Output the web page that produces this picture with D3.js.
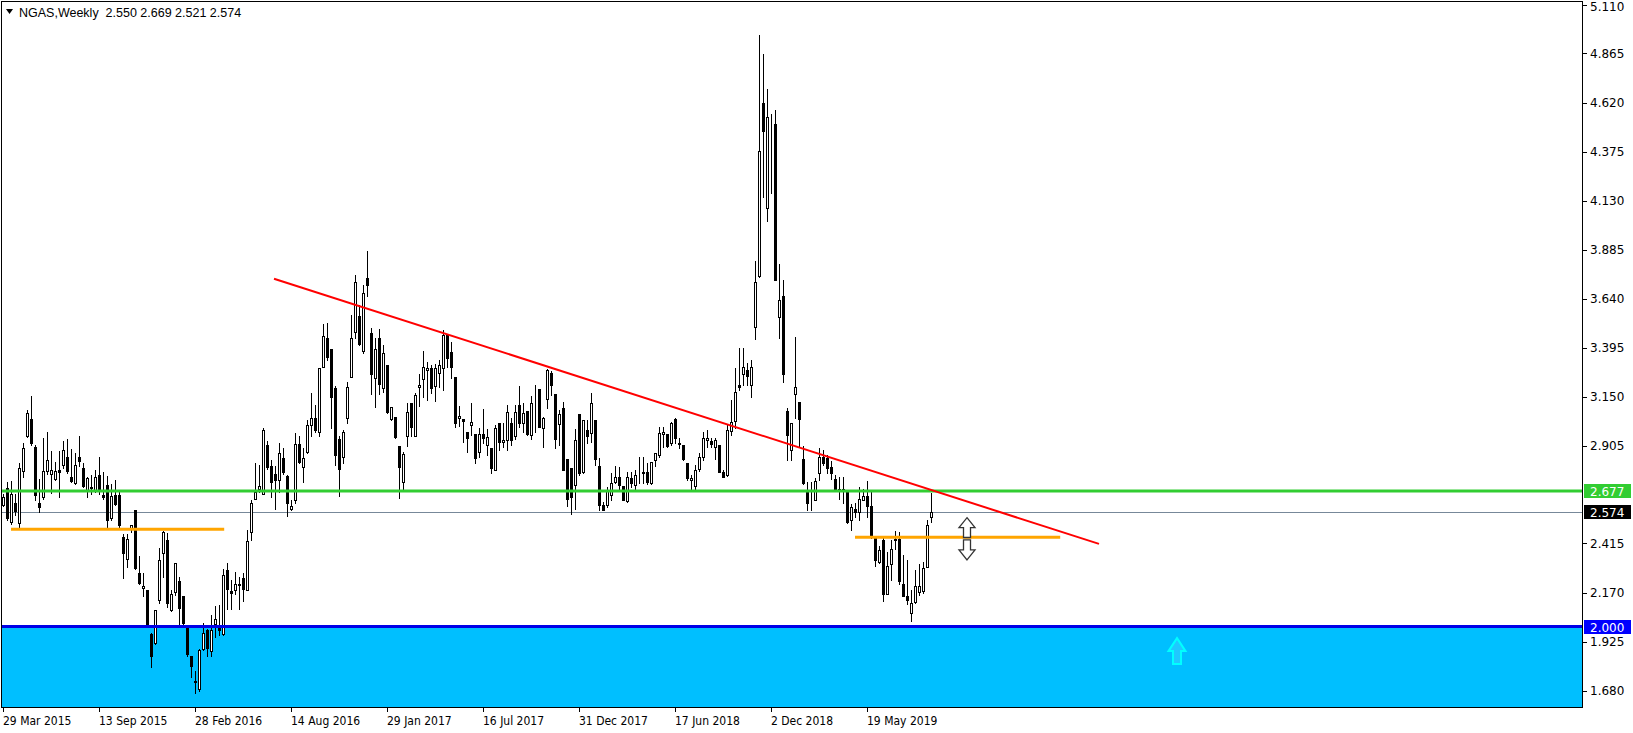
<!DOCTYPE html>
<html><head><meta charset="utf-8">
<script src="https://cdn.jsdelivr.net/npm/d3@7"></script>
<style>
html,body{margin:0;padding:0;background:#fff;overflow:hidden}
svg{display:block}
</style></head><body>
<svg id="c" width="1633" height="733"></svg>
<script>
// ---------- DATA (NGAS weekly, first bar = week of 29 Mar 2015) ----------
const opens = [2.607,2.695,2.523,2.620,2.520,2.777,2.952,3.036,2.896,2.615,2.649,2.780,2.765,2.737,2.782,2.810,2.846,2.747,2.719,2.847,
2.795,2.682,2.695,2.682,2.760,2.660,2.710,2.543,2.657,2.660,2.450,2.340,2.487,2.582,2.270,2.193,2.181,1.961,1.917,2.131,
2.368,2.435,2.081,2.174,2.226,2.151,1.994,1.855,1.730,1.687,1.889,1.981,1.877,2.011,1.994,1.964,2.284,2.178,2.184,2.206,
2.244,2.184,2.473,2.640,2.689,2.665,2.906,2.802,2.762,2.732,2.841,2.755,2.588,2.635,2.911,2.796,2.874,3.008,3.041,2.975,
3.297,3.442,3.389,3.192,2.936,2.849,3.041,3.250,3.471,3.554,3.380,3.743,3.467,3.242,3.442,3.192,3.309,3.036,3.046,2.903,
2.724,2.955,3.117,2.955,3.200,3.237,3.282,3.295,3.205,3.267,3.292,3.459,3.372,3.247,3.041,3.038,2.975,3.008,2.963,2.874,
2.963,2.908,2.891,2.783,3.020,2.921,2.933,3.016,2.950,3.108,3.016,3.080,2.958,3.103,3.187,2.991,3.137,3.267,3.163,3.013,
3.092,2.836,2.791,2.707,3.063,2.774,2.983,2.969,3.033,2.802,2.610,2.607,2.657,2.724,2.749,2.702,2.629,2.741,2.707,2.769,
2.766,2.774,2.719,2.832,2.857,2.963,2.963,2.916,3.036,2.916,2.908,2.819,2.732,2.702,2.786,2.849,2.933,2.927,2.896,2.908,
2.774,2.757,2.980,3.029,3.208,3.263,3.283,3.208,3.500,3.751,4.619,4.093,4.443,4.511,3.550,3.654,3.078,2.882,3.163,3.123,
2.836,2.685,2.650,2.635,2.769,2.849,2.841,2.799,2.736,2.690,2.688,2.674,2.535,2.590,2.573,2.635,2.652,2.602,2.448,2.323,
2.431,2.164,2.311,2.440,2.440,2.211,2.151,2.067,2.122,2.173,2.178,2.298,2.550];
const highs = [2.665,2.724,2.729,2.665,2.819,2.916,3.083,3.153,2.907,2.737,2.941,2.971,2.877,2.824,2.877,2.927,2.936,2.886,2.869,2.952,
2.819,2.745,2.757,2.782,2.846,2.774,2.752,2.715,2.735,2.685,2.465,2.465,2.510,2.582,2.353,2.270,2.181,1.967,2.084,2.393,
2.477,2.470,2.181,2.320,2.248,2.151,2.006,1.855,1.780,1.889,2.019,1.989,2.056,2.102,2.106,2.286,2.320,2.231,2.273,2.248,
2.268,2.485,2.632,2.816,2.810,2.994,2.927,2.832,2.804,2.916,2.894,2.760,2.635,2.966,2.950,2.891,3.033,3.167,3.108,3.292,
3.512,3.517,3.389,3.205,2.950,2.983,3.225,3.559,3.760,3.609,3.709,3.880,3.492,3.442,3.487,3.409,3.309,3.097,3.046,2.903,
2.874,3.117,3.117,3.167,3.262,3.379,3.325,3.309,3.312,3.334,3.484,3.459,3.421,3.247,3.103,3.038,2.975,3.117,2.963,2.991,
3.087,2.986,2.891,3.008,3.020,3.020,3.108,3.041,3.108,3.203,3.117,3.080,3.153,3.208,3.187,3.050,3.287,3.280,3.163,3.083,
3.125,2.836,2.791,2.986,3.063,3.033,3.033,3.170,3.033,2.841,2.623,2.699,2.766,2.802,2.799,2.702,2.774,2.774,2.782,2.849,
2.849,2.816,2.824,2.869,3.000,3.000,2.963,3.024,3.041,2.941,2.908,2.819,2.757,2.807,2.866,2.974,2.983,2.944,2.941,2.908,
2.782,3.008,3.133,3.292,3.392,3.392,3.317,3.333,3.829,4.957,4.861,4.689,4.561,4.581,3.814,3.734,3.094,3.019,3.447,3.123,
2.902,2.724,2.724,2.741,2.891,2.882,2.857,2.830,2.757,2.745,2.749,2.679,2.612,2.615,2.699,2.690,2.727,2.682,2.448,2.401,
2.448,2.373,2.431,2.476,2.473,2.356,2.331,2.181,2.281,2.314,2.323,2.532,2.669];
const lows = [2.602,2.532,2.515,2.557,2.495,2.749,2.949,2.907,2.635,2.573,2.640,2.762,2.669,2.732,2.649,2.795,2.769,2.724,2.715,2.802,
2.699,2.649,2.665,2.674,2.665,2.640,2.493,2.535,2.607,2.493,2.243,2.298,2.473,2.286,2.214,2.151,2.006,1.797,1.914,2.117,
2.248,2.097,2.076,2.156,2.006,2.006,1.855,1.747,1.668,1.680,1.884,1.855,1.855,1.947,1.956,1.956,2.089,2.086,2.164,2.089,
2.128,2.181,2.435,2.640,2.674,2.665,2.790,2.649,2.590,2.674,2.765,2.552,2.582,2.618,2.816,2.724,2.869,2.950,2.975,2.950,
3.297,3.334,2.991,2.808,2.654,2.816,3.020,3.250,3.442,3.410,3.370,3.651,3.162,3.097,3.162,3.175,3.067,3.033,2.941,2.644,
2.682,2.903,2.953,2.950,3.103,3.150,3.133,3.170,3.130,3.200,3.183,3.300,3.242,3.000,3.003,2.921,2.874,2.958,2.819,2.849,
2.916,2.858,2.766,2.783,2.883,2.900,2.883,2.908,2.936,3.000,2.975,2.958,2.936,2.975,3.000,2.896,3.092,3.158,2.891,2.908,
2.783,2.602,2.562,2.590,2.760,2.766,2.916,2.925,2.807,2.585,2.582,2.598,2.632,2.719,2.690,2.632,2.624,2.699,2.682,2.719,
2.719,2.715,2.715,2.802,2.849,2.899,2.899,2.908,2.916,2.891,2.832,2.732,2.682,2.682,2.777,2.832,2.899,2.899,2.839,2.774,
2.749,2.752,2.958,2.991,3.183,3.208,3.208,3.150,3.437,3.748,4.147,4.026,4.168,3.734,3.442,3.225,2.832,2.832,3.044,2.899,
2.715,2.582,2.585,2.632,2.732,2.807,2.766,2.740,2.682,2.640,2.615,2.518,2.482,2.548,2.532,2.632,2.548,2.445,2.301,2.315,
2.128,2.161,2.231,2.390,2.214,2.151,2.114,2.026,2.117,2.156,2.168,2.298,2.521];
const closes = [2.649,2.540,2.665,2.577,2.795,2.891,3.066,2.916,2.660,2.598,2.777,2.831,2.782,2.779,2.774,2.881,2.779,2.729,2.810,2.829,
2.702,2.742,2.697,2.745,2.682,2.649,2.533,2.654,2.612,2.508,2.365,2.440,2.510,2.290,2.218,2.204,2.009,1.855,2.084,2.335,
2.473,2.119,2.161,2.320,2.092,2.017,1.864,1.805,1.722,1.884,1.969,1.894,1.984,2.039,1.981,2.259,2.186,2.168,2.214,2.214,
2.189,2.428,2.620,2.674,2.702,2.983,2.799,2.724,2.732,2.869,2.774,2.615,2.605,2.911,2.824,2.841,3.008,3.041,2.983,3.292,
3.451,3.350,3.150,2.858,2.786,2.971,3.197,3.442,3.723,3.412,3.668,3.706,3.262,3.387,3.212,3.367,3.075,3.097,2.946,2.799,
2.861,3.072,3.000,3.158,3.208,3.297,3.292,3.195,3.295,3.309,3.459,3.342,3.297,3.016,3.053,3.030,2.941,3.021,2.841,2.963,
2.941,2.946,2.794,2.991,2.921,2.933,3.075,2.933,3.075,3.016,3.070,2.963,3.117,3.105,3.000,3.041,3.284,3.208,2.936,3.063,
2.783,2.636,2.649,2.933,2.766,3.033,2.950,3.116,2.836,2.607,2.585,2.679,2.719,2.749,2.707,2.632,2.745,2.719,2.757,2.766,
2.774,2.724,2.824,2.866,2.966,2.974,2.902,3.019,2.941,2.912,2.836,2.741,2.741,2.782,2.846,2.941,2.944,2.911,2.933,2.774,
2.749,2.983,3.024,3.171,3.196,3.297,3.255,3.300,3.722,4.377,4.477,4.549,4.445,3.734,3.634,3.263,2.958,3.019,3.200,3.036,
2.719,2.615,2.648,2.727,2.849,2.816,2.791,2.769,2.682,2.679,2.682,2.523,2.598,2.573,2.640,2.652,2.602,2.448,2.335,2.381,
2.164,2.301,2.390,2.435,2.228,2.154,2.134,2.119,2.201,2.201,2.290,2.510,2.574];

const firstWeek = "29 Mar 2015";
const dateTickLabels = ["29 Mar 2015","13 Sep 2015","28 Feb 2016","14 Aug 2016","29 Jan 2017","16 Jul 2017","31 Dec 2017","17 Jun 2018","2 Dec 2018","19 May 2019"];
const priceTicks = [5.110,4.865,4.620,4.375,4.130,3.885,3.640,3.395,3.150,2.905,2.415,2.170,1.925,1.680];
const title = "NGAS,Weekly  2.550 2.669 2.521 2.574";

// horizontal levels
const resistanceLevel = 2.677;   // green
const bidLevel = 2.574;          // grey bid line
const supportLevel = 2.000;      // blue line + zone below
// segments: [startBarIndex, endBarIndex, price]
const orangeLevels = [[2, 55.3, 2.486],[213, 264.3, 2.446]];
// trend line: [barIndex, price] pairs
const trendLine = [[67.75, 3.739],[274, 2.413]];
// arrows: [barIndex, priceTop, priceBottom, direction]
const arrowMarks = [[241, 2.544, 2.445, "up"],[241, 2.433, 2.333, "down"]];
const zoneArrow = [293.5, 1.942, 1.812, "up"];

// ---------- DRAW ----------
const parse = d3.utcParse("%d %b %Y");
const t0 = parse(firstWeek);
const dates = opens.map((_, i) => d3.utcWeek.offset(t0, i));
const idxDate = i => new Date(+t0 + i * 7 * 864e5);

const W = 1633, H = 733;
const plotL = 1, plotR = 1582, plotT = 1, plotB = 707;
const x = d3.scaleUtc().domain([dates[0], dates[dates.length - 1]]).range([3, 3 + 4 * (dates.length - 1)]);
const y = d3.scaleLinear().domain([1.68, 5.11]).range([690.5, 4.5]);

const svg = d3.select("#c");
svg.append("rect").attr("width", W).attr("height", H).attr("fill", "#fff");

const plot = svg.append("g");
// support zone
plot.append("rect")
  .attr("x", plotL + 1).attr("y", Math.round(y(supportLevel)) - 2)
  .attr("width", plotR - plotL - 1).attr("height", plotB - Math.round(y(supportLevel)) + 2)
  .attr("fill", "#00BFFF");

// bid line
plot.append("line").attr("x1", plotL).attr("x2", plotR)
  .attr("y1", Math.round(y(bidLevel)) + 0.5).attr("y2", Math.round(y(bidLevel)) + 0.5)
  .attr("stroke", "#778899").attr("stroke-width", 1);

// candles
const cg = plot.append("g").attr("shape-rendering", "crispEdges");
const candles = cg.selectAll("g").data(opens.map((o, i) => ({o, h: highs[i], l: lows[i], c: closes[i], d: dates[i]}))).join("g");
candles.append("line")
  .attr("x1", d => Math.round(x(d.d)) + 0.5).attr("x2", d => Math.round(x(d.d)) + 0.5)
  .attr("y1", d => Math.round(y(d.h))).attr("y2", d => Math.round(y(d.l)) + 1)
  .attr("stroke", "#000").attr("stroke-width", 1);
candles.append("rect")
  .attr("x", d => Math.round(x(d.d)) - 0.5).attr("width", 2)
  .attr("y", d => Math.round(y(Math.max(d.o, d.c))) + 0.5)
  .attr("height", d => Math.max(0, Math.round(y(Math.min(d.o, d.c))) - Math.round(y(Math.max(d.o, d.c)))))
  .attr("fill", d => d.c >= d.o ? "#fff" : "#000")
  .attr("stroke", "#000").attr("stroke-width", 1);

// green resistance
plot.append("line").attr("x1", plotL).attr("x2", plotR)
  .attr("y1", y(resistanceLevel)).attr("y2", y(resistanceLevel))
  .attr("stroke", "#32CD32").attr("stroke-width", 3);
// blue support
plot.append("line").attr("x1", plotL).attr("x2", plotR)
  .attr("y1", y(supportLevel)).attr("y2", y(supportLevel))
  .attr("stroke", "#0000E6").attr("stroke-width", 3);

// orange segments
plot.selectAll("line.orange").data(orangeLevels).join("line").attr("class", "orange")
  .attr("x1", d => x(idxDate(d[0]))).attr("x2", d => x(idxDate(d[1])))
  .attr("y1", d => y(d[2])).attr("y2", d => y(d[2]))
  .attr("stroke", "#FFA500").attr("stroke-width", 3);

// trend line
plot.append("line")
  .attr("x1", x(idxDate(trendLine[0][0]))).attr("y1", y(trendLine[0][1]))
  .attr("x2", x(idxDate(trendLine[1][0]))).attr("y2", y(trendLine[1][1]))
  .attr("stroke", "#FF0000").attr("stroke-width", 2);

// arrows
function arrowPath(cx, top, bot, dir, w, sw) {
  const hl = (bot - top) * 0.5;
  if (dir === "up") {
    const hb = top + hl;
    return `M${cx},${top}L${cx + w / 2},${hb}L${cx + sw / 2},${hb}L${cx + sw / 2},${bot}L${cx - sw / 2},${bot}L${cx - sw / 2},${hb}L${cx - w / 2},${hb}Z`;
  } else {
    const hb = bot - hl;
    return `M${cx},${bot}L${cx + w / 2},${hb}L${cx + sw / 2},${hb}L${cx + sw / 2},${top}L${cx - sw / 2},${top}L${cx - sw / 2},${hb}L${cx - w / 2},${hb}Z`;
  }
}
plot.selectAll("path.arr").data(arrowMarks).join("path").attr("class", "arr")
  .attr("d", d => arrowPath(x(idxDate(d[0])), y(d[1]), y(d[2]), d[3], 16, 7))
  .attr("fill", "#fff").attr("stroke", "#333").attr("stroke-width", 1.3).attr("stroke-linejoin", "miter");
plot.append("path")
  .attr("d", arrowPath(x(idxDate(zoneArrow[0])), y(zoneArrow[1]), y(zoneArrow[2]), zoneArrow[3], 17, 8))
  .attr("fill", "#20C8FF").attr("stroke", "#00FFFF").attr("stroke-width", 2);

// frame
svg.append("rect").attr("x", plotL + 0.5).attr("y", plotT + 0.5)
  .attr("width", plotR - plotL).attr("height", plotB - plotT)
  .attr("fill", "none").attr("stroke", "#000").attr("stroke-width", 1);

// title
svg.append("path").attr("d", "M6,9L13,9L9.5,14Z").attr("fill", "#000");
svg.append("text").attr("x", 19).attr("y", 17).text(title)
  .attr("font-family", "'Liberation Sans', Arial, sans-serif").attr("font-size", 12.5).attr("fill", "#000")
  .style("white-space", "pre").attr("xml:space", "preserve");

// price axis
const ax = svg.append("g");
ax.selectAll("line.pt").data(priceTicks).join("line").attr("class", "pt")
  .attr("x1", plotR + 1).attr("x2", plotR + 5)
  .attr("y1", d => Math.round(y(d)) + 0.5).attr("y2", d => Math.round(y(d)) + 0.5)
  .attr("stroke", "#000");
ax.selectAll("text.pt").data(priceTicks).join("text").attr("class", "pt")
  .attr("x", plotR + 8).attr("y", d => Math.max(y(d) + 4.5, 11))
  .attr("font-family", "'DejaVu Sans', Verdana, sans-serif").attr("font-size", 12)
  .attr("fill", "#000").text(d => d.toFixed(3));

// price tags
const tags = [[resistanceLevel, "#32CD32"], [bidLevel, "#000"], [supportLevel, "#0000FF"]];
tags.forEach(([v, col]) => {
  const yy = Math.round(y(v));
  ax.append("rect").attr("x", plotR + 2).attr("y", yy - 7).attr("width", 47).attr("height", 14).attr("fill", col);
  ax.append("text").attr("x", plotR + 8).attr("y", yy + 4.5)
    .attr("font-family", "'DejaVu Sans', Verdana, sans-serif").attr("font-size", 12)
    .attr("fill", "#fff").text(v.toFixed(3));
});

// time axis
const tickDates = dateTickLabels.map(parse);
ax.selectAll("line.dt").data(tickDates).join("line").attr("class", "dt")
  .attr("x1", d => Math.round(x(d)) + 0.5).attr("x2", d => Math.round(x(d)) + 0.5)
  .attr("y1", plotB + 1).attr("y2", plotB + 5).attr("stroke", "#000");
ax.selectAll("text.dt").data(tickDates).join("text").attr("class", "dt")
  .attr("x", d => Math.round(x(d))).attr("y", 725)
  .attr("font-family", "'DejaVu Sans Condensed', 'DejaVu Sans', sans-serif").attr("font-size", 12)
  .attr("fill", "#000").text((d, i) => dateTickLabels[i]);
</script>
</body></html>
